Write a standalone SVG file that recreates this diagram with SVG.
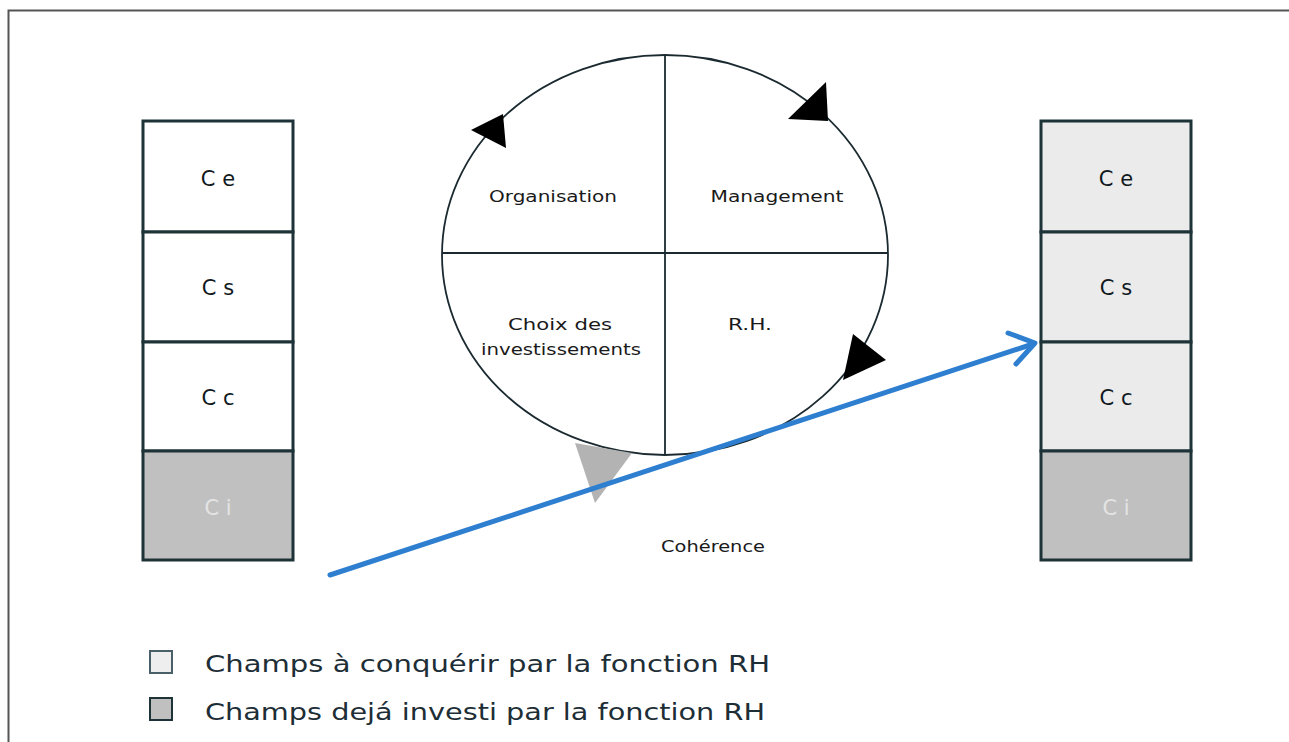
<svg xmlns="http://www.w3.org/2000/svg" width="1289" height="742" viewBox="0 0 1289 742">
<style>
.box{stroke:#1d3338;stroke-width:3}
.w{fill:#ffffff}
.l{fill:#ebebeb}
.g{fill:#c0c0c0}
.bt{font-family:"DejaVu Sans",sans-serif;font-size:21px;fill:#101820;text-anchor:middle}
.bti{font-family:"DejaVu Sans",sans-serif;font-size:21px;fill:#e4e4e4;text-anchor:middle}
.ct{font-family:"DejaVu Sans",sans-serif;font-size:15px;fill:#1a1a1a;text-anchor:middle}
.lg{font-family:"DejaVu Sans",sans-serif;font-size:23px;fill:#1e2e36}
.ah{fill:#000}
</style>
<rect x="0" y="0" width="1289" height="742" fill="#ffffff"/>
<path d="M8.5 742 V10.5 H1289" fill="none" stroke="#555" stroke-width="2"/>

<g id="left-stack">
<rect class="box w" x="143" y="121" width="150" height="111"/>
<rect class="box w" x="143" y="232" width="150" height="110"/>
<rect class="box w" x="143" y="342" width="150" height="109"/>
<rect class="box g" x="143" y="451" width="150" height="109"/>
<text class="bt" x="218" y="186">C e</text>
<text class="bt" x="218" y="295">C s</text>
<text class="bt" x="218" y="405">C c</text>
<text class="bti" x="218" y="515">C i</text>
</g>

<g id="right-stack">
<rect class="box l" x="1041" y="121" width="150" height="111"/>
<rect class="box l" x="1041" y="232" width="150" height="110"/>
<rect class="box l" x="1041" y="342" width="150" height="109"/>
<rect class="box g" x="1041" y="451" width="150" height="109"/>
<text class="bt" x="1116" y="186">C e</text>
<text class="bt" x="1116" y="295">C s</text>
<text class="bt" x="1116" y="405">C c</text>
<text class="bti" x="1116" y="515">C i</text>
</g>

<g id="cycle">
<ellipse cx="665" cy="255" rx="223" ry="200" fill="#fff" stroke="#1a2a30" stroke-width="1.8"/>
<line x1="442" y1="253" x2="888" y2="253" stroke="#1a2a30" stroke-width="1.8"/>
<line x1="665" y1="55" x2="665" y2="455" stroke="#1a2a30" stroke-width="1.8"/>
<text class="ct" x="553" y="202" textLength="128" lengthAdjust="spacingAndGlyphs">Organisation</text>
<text class="ct" x="777" y="202" textLength="133" lengthAdjust="spacingAndGlyphs">Management</text>
<text class="ct" x="560" y="330" textLength="104" lengthAdjust="spacingAndGlyphs">Choix des</text>
<text class="ct" x="561" y="355" textLength="160" lengthAdjust="spacingAndGlyphs">investissements</text>
<text class="ct" x="750" y="330" textLength="44" lengthAdjust="spacingAndGlyphs">R.H.</text>
<polygon class="ah" points="471,130 503,114 506,148"/>
<polygon class="ah" points="788,119 826,82 828,121"/>
<polygon class="ah" points="853,334 886,360 843,380"/>
<polygon fill="#b3b3b3" points="575,443 632,453 595,503"/>
</g>

<g id="connectors">
<line x1="330" y1="575" x2="1033" y2="344" stroke="#2f7fd1" stroke-width="5" stroke-linecap="round"/>
<polyline points="1008,333 1035,343 1016,364" fill="none" stroke="#2f7fd1" stroke-width="5" stroke-linecap="round" stroke-linejoin="round"/>
</g>

<text class="ct" x="713" y="552" textLength="104" lengthAdjust="spacingAndGlyphs">Cohérence</text>

<g id="legend">
<rect x="150" y="651" width="22" height="22" fill="#eeeeee" stroke="#4a6068" stroke-width="2"/>
<rect x="150" y="698" width="22" height="22" fill="#c0c0c0" stroke="#1d3338" stroke-width="2"/>
<text class="lg" x="205" y="672" textLength="565" lengthAdjust="spacingAndGlyphs">Champs à conquérir par la fonction RH</text>
<text class="lg" x="205" y="720" textLength="560" lengthAdjust="spacingAndGlyphs">Champs dejá investi par la fonction RH</text>
</g>
</svg>
